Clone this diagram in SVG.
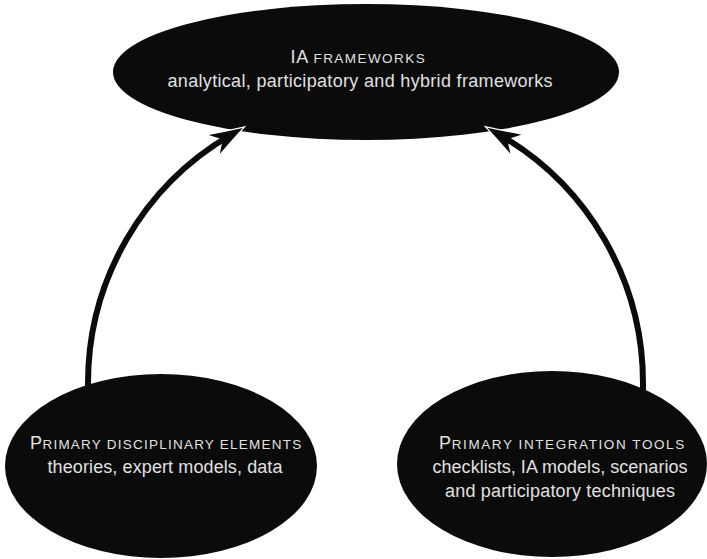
<svg xmlns="http://www.w3.org/2000/svg" width="707" height="559" viewBox="0 0 707 559">
  <style>
    .node { fill: #0b0b0b; }
    .label { font-family: "Liberation Sans", Arial, sans-serif; fill: #e0e0e0; text-anchor: middle; }
    .body { font-size: 18px; }
    .sc-cap { font-size: 18px; }
    .sc { font-size: 13.5px; letter-spacing: 0.8px; }
    .shaft { fill: none; stroke: #0b0b0b; stroke-width: 6; }
  </style>
  <defs>
    <!-- swept, barbed arrowhead; tip sits 14 units ahead of the path end -->
    <marker id="head" markerUnits="userSpaceOnUse" markerWidth="60" markerHeight="40" viewBox="-30 -20 60 40" refX="0" refY="0" orient="auto" overflow="visible">
      <path d="M -19 -11 Q -2 -5 14 0 Q -2 5 -19 11" fill="none" stroke="#ffffff" stroke-width="2.5" stroke-linejoin="miter"/>
      <path d="M 14 0 Q -2 -5 -19 -11 L -9 0 L -19 11 Q -2 5 14 0 Z" fill="#0b0b0b"/>
    </marker>
  </defs>

  <rect width="707" height="559" fill="#ffffff"/>

  <g id="node-frameworks">
    <ellipse class="node" cx="366" cy="72" rx="253" ry="68"/>
    <text class="label" x="358" y="63" textLength="135" lengthAdjust="spacing"><tspan class="sc-cap">IA </tspan><tspan class="sc">FRAMEWORKS</tspan></text>
    <text class="label body" x="360" y="87" textLength="385" lengthAdjust="spacing">analytical, participatory and hybrid frameworks</text>
  </g>

  <g id="node-disciplinary">
    <ellipse class="node" cx="161" cy="466" rx="156" ry="92"/>
    <text class="label" x="166" y="449" textLength="272" lengthAdjust="spacing"><tspan class="sc-cap">P</tspan><tspan class="sc">RIMARY DISCIPLINARY ELEMENTS</tspan></text>
    <text class="label body" x="165" y="473" textLength="235" lengthAdjust="spacing">theories, expert models, data</text>
  </g>

  <g id="node-integration">
    <ellipse class="node" cx="552" cy="464" rx="155" ry="93"/>
    <text class="label" x="562" y="449" textLength="246" lengthAdjust="spacing"><tspan class="sc-cap">P</tspan><tspan class="sc">RIMARY INTEGRATION TOOLS</tspan></text>
    <text class="label body" x="560" y="473" textLength="255" lengthAdjust="spacing">checklists, IA models, scenarios</text>
    <text class="label body" x="560" y="497" textLength="230" lengthAdjust="spacing">and participatory techniques</text>
  </g>

  <g id="connectors">
    <path class="shaft" d="M 88 392 L 88 383 A 287 287 0 0 1 230.6 135.0" marker-end="url(#head)"/>
    <path class="shaft" d="M 643 392 L 643 383 A 286.4 286.4 0 0 0 499.4 134.7" marker-end="url(#head)"/>
  </g>
</svg>
